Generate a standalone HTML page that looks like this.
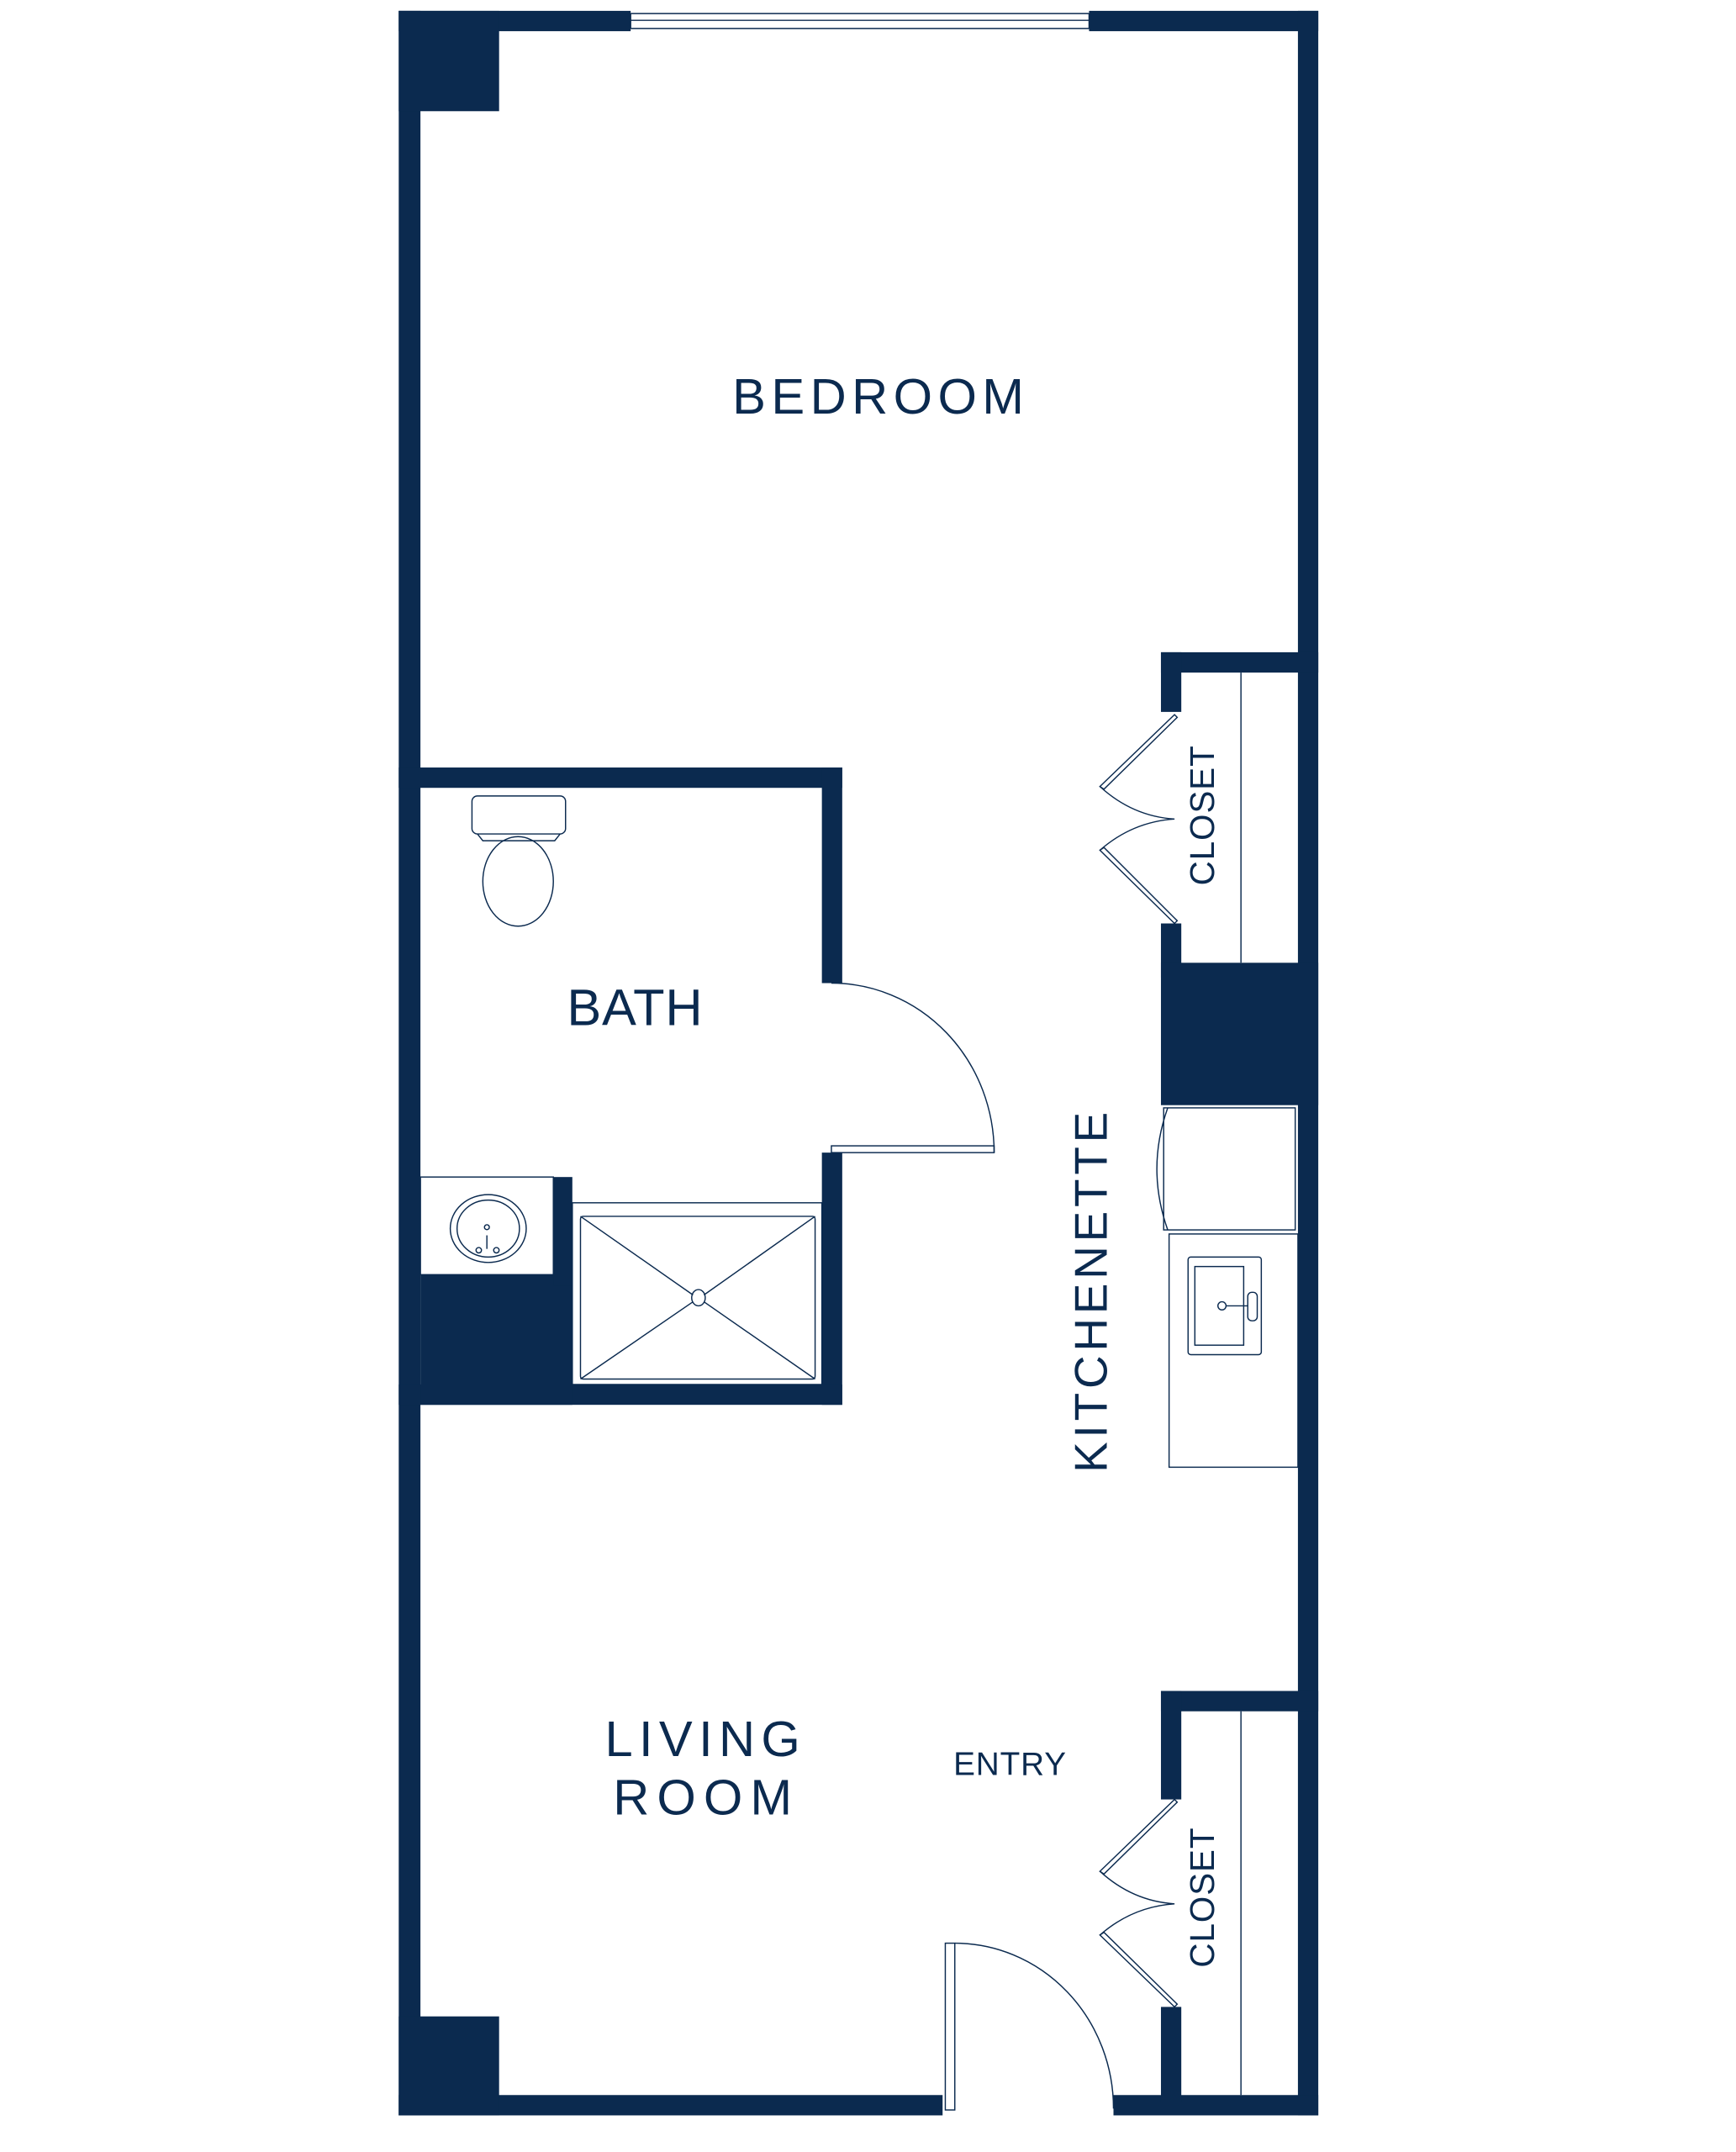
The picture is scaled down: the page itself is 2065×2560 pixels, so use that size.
<!DOCTYPE html>
<html><head><meta charset="utf-8"><style>html,body{margin:0;padding:0;background:#fff}svg{display:block}</style></head>
<body>
<svg width="2065" height="2560" viewBox="0 0 1280 1587" preserveAspectRatio="none" xmlns="http://www.w3.org/2000/svg">
<g fill="#0b2a4f">
<rect x="294" y="8" width="171" height="15"/>
<rect x="803" y="8" width="169" height="15"/>
<rect x="294" y="8" width="16" height="1552"/>
<rect x="957" y="8" width="15" height="1552"/>
<rect x="294" y="1545" width="401" height="15"/>
<rect x="821" y="1545" width="151" height="15"/>
<rect x="294" y="8" width="74" height="74"/>
<rect x="294" y="1487" width="74" height="73"/>
<rect x="294" y="566" width="327" height="15"/>
<rect x="606" y="566" width="15" height="159"/>
<rect x="606" y="850" width="15" height="186"/>
<rect x="294" y="1021" width="327" height="15"/>
<rect x="310" y="940" width="112" height="96"/>
<rect x="408" y="868" width="14" height="80"/>
<rect x="856" y="481" width="116" height="15"/>
<rect x="856" y="481" width="15" height="44"/>
<rect x="856" y="681" width="15" height="40"/>
<rect x="856" y="710" width="116" height="105"/>
<rect x="856" y="1247" width="116" height="15"/>
<rect x="856" y="1247" width="15" height="80"/>
<rect x="856" y="1480" width="15" height="70"/>
</g>
<g fill="none" stroke="#0b2a4f" stroke-width="0.9">
<line x1="465" y1="10" x2="803" y2="10"/><line x1="465" y1="15" x2="803" y2="15"/><line x1="465" y1="21" x2="803" y2="21"/>
<line x1="465" y1="10" x2="465" y2="21"/><line x1="803" y1="10" x2="803" y2="21"/>
<rect x="348" y="587" width="69" height="28" rx="4"/>
<path d="M352 615 L356 620 L409 620 L413 615"/>
<ellipse cx="382" cy="650" rx="26" ry="33"/>
<rect x="310" y="868" width="98" height="72"/>
<ellipse cx="360" cy="906" rx="28" ry="25"/>
<ellipse cx="360" cy="906" rx="23" ry="21"/>
<circle cx="359" cy="905" r="1.8"/><line x1="359" y1="911" x2="359" y2="921"/>
<circle cx="353" cy="922" r="2"/><circle cx="366" cy="922" r="2"/>
<rect x="422" y="887" width="184" height="134"/>
<rect x="428" y="897" width="173" height="120" rx="2"/>
<line x1="428" y1="897" x2="511" y2="955"/><line x1="601" y1="897" x2="519" y2="955"/>
<line x1="428" y1="1017" x2="511" y2="960"/><line x1="601" y1="1017" x2="519" y2="960"/>
<ellipse cx="515" cy="957" rx="5" ry="6"/>
<path d="M613 725 A120 125 0 0 1 733 850"/>
<rect x="613" y="845" width="120" height="5"/>
<line x1="915" y1="496" x2="915" y2="710"/>
<path d="M866 527 L811 580 L814 582 L868 529 Z"/>
<path d="M811 580 Q835 602 866 604 Q835 606 811 627"/>
<path d="M811 627 L866 681 L868 679 L814 625 Z"/>
<line x1="915" y1="1262" x2="915" y2="1545"/>
<path d="M866 1327 L811 1380 L814 1382 L868 1329 Z"/>
<path d="M811 1380 Q835 1402 866 1404 Q835 1406 811 1427"/>
<path d="M811 1427 L866 1480 L868 1478 L814 1425 Z"/>
<rect x="858" y="817" width="97" height="90"/>
<path d="M861 817 Q845 862 861 907"/>
<rect x="862" y="910" width="95" height="172"/>
<rect x="876" y="927" width="54" height="72" rx="2"/>
<rect x="881" y="934" width="36" height="58"/>
<circle cx="901" cy="963" r="3"/>
<path d="M904 963 L920 963"/>
<rect x="920" y="953" width="7" height="21" rx="3"/>
<rect x="697" y="1433" width="7" height="123"/>
<path d="M704 1433 A117 122 0 0 1 821 1555"/>
</g>
<g fill="#0b2a4f" font-family="Liberation Sans, sans-serif">
<text x="540" y="305" font-size="37" textLength="215" lengthAdjust="spacing">BEDROOM</text>
<text x="418" y="756" font-size="38" textLength="100" lengthAdjust="spacing">BATH</text>
<text x="446" y="1295" font-size="37" textLength="144" lengthAdjust="spacing">LIVING</text>
<text x="452" y="1338" font-size="37" textLength="132" lengthAdjust="spacing">ROOM</text>
<text x="703" y="1309" font-size="24" textLength="83" lengthAdjust="spacing">ENTRY</text>
<text transform="translate(895,653) rotate(-90)" font-size="25" textLength="103" lengthAdjust="spacing">CLOSET</text>
<text transform="translate(895,1451) rotate(-90)" font-size="25" textLength="103" lengthAdjust="spacing">CLOSET</text>
<text transform="translate(816,1086) rotate(-90)" font-size="34" textLength="266" lengthAdjust="spacing">KITCHENETTE</text>
</g>
</svg>
</body></html>
